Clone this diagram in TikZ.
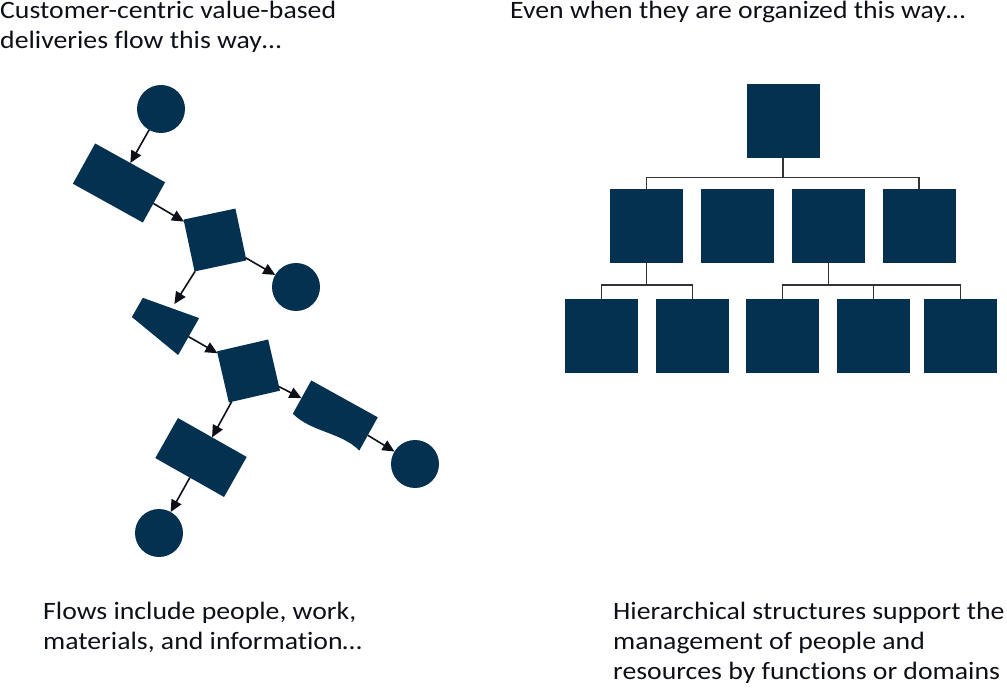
\documentclass[tikz,border=0pt]{standalone}
\usepackage{fontspec}
\setmainfont{Carlito}[FakeStretch=1.11,Ligatures=NoCommon]
\usetikzlibrary{arrows.meta,calc}
\definecolor{navy}{RGB}{3,49,79}
\definecolor{wire}{RGB}{51,51,51}
\definecolor{ink}{RGB}{13,17,23}

\begin{document}
\begin{tikzpicture}[x=1pt,y=-1pt,
    blk/.style={fill=navy,inner sep=0pt,outer sep=0pt},
    ev/.style={blk,circle,minimum size=48pt},
    act/.style={blk,rectangle,minimum width=80pt,minimum height=46pt},
    sqr/.style={blk,rectangle,minimum size=53pt},
    unit/.style={blk,rectangle,minimum width=73pt,minimum height=74pt},
    frame/.style={rectangle,inner sep=0pt,outer sep=0pt},
    flow/.style={draw=ink,line width=1.6pt,-{Triangle[length=12pt,width=11pt]}},
    tie/.style={draw=wire,line width=1.4pt},
    txt/.style={anchor=north west,align=left,inner sep=0pt,text=ink,
      font=\fontsize{25}{30}\selectfont}
  ]
  \useasboundingbox (0,0) rectangle (1007,692);

  % captions
  \node[txt] (flowtop) at (0,1) {Customer-centric value-based\\deliveries flow this way…};
  \node[txt] (orgtop) at (510,1) {Even when they are organized this way…};
  \node[txt] (flownote) at (43,602) {Flows include people, work,\\materials, and information…};
  \node[txt] (orgnote) at (613,602) {Hierarchical structures support the\\management of people and\\resources by functions or domains};

  % value flow
  \node[ev] (start) at (161,109) {};
  \node[act,rotate=-29] (intake) at (119,183) {};
  \node[sqr,rotate=12] (check) at (215,240) {};
  \node[ev] (exitA) at (296,287) {};
  \node[frame,minimum width=59pt,minimum height=42.5pt,rotate=-29.6] (prep) at (163,322) {};
  \fill[navy] (prep.north east) -- (prep.south east)
    -- ($(prep.south west)!0.24!(prep.north west)$)
    -- ($(prep.north west)!0.24!(prep.south west)$) -- cycle;
  \node[sqr,minimum size=52.5pt,rotate=13] (build) at (248.5,371) {};
  \node[frame,minimum width=76pt,minimum height=38pt,rotate=-29] (record) at (335.3,415.5) {};
  \fill[navy] (record.north west) -- (record.north east) -- (record.south east)
    .. controls +(-18.6,-18.6) and +(18.6,18.6) .. (record.south west) -- cycle;
  \node[ev] (exitB) at (415,464) {};
  \node[act,minimum width=79pt,rotate=-29.5] (ship) at (201,457.5) {};
  \node[ev] (finish) at (159,533) {};

  \draw[flow] (start) -- (intake);
  \draw[flow] (intake) -- (check);
  \draw[flow] (check) -- (exitA);
  \draw[flow] (check) -- (prep);
  \draw[flow] (prep) -- (build);
  \draw[flow] (build) -- (record);
  \draw[flow] (record) -- (exitB);
  \draw[flow] (build) -- (ship);
  \draw[flow] (ship) -- (finish);

  % hierarchy
  \node[unit] (head) at (783,121.5) {};
  \foreach \i/\x in {1/646.5,2/737.5,3/828.5,4/919}
    \node[unit] (dept\i) at (\x,226) {};
  \foreach \i/\x in {1/601.5,2/692.5,3/782.5,4/873.5,5/960.5}
    \node[unit] (team\i) at (\x,336) {};

  \draw[tie] (head.south) -- ++(0,19) -| (dept1.north);
  \draw[tie] (head.south) -- ++(0,19) -| (dept4.north);
  \draw[tie] (dept1.south) -- ++(0,22) -| (team1.north);
  \draw[tie] (dept1.south) -- ++(0,22) -| (team2.north);
  \draw[tie] (dept3.south) -- ++(0,22) -| (team3.north);
  \draw[tie] (dept3.south) -- ++(0,22) -| (team4.north);
  \draw[tie] (dept3.south) -- ++(0,22) -| (team5.north);
\end{tikzpicture}
\end{document}
